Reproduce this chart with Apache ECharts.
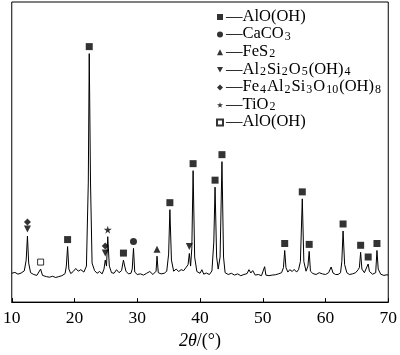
<!DOCTYPE html>
<html>
<head>
<meta charset="utf-8">
<script src="https://cdn.jsdelivr.net/npm/echarts@6/dist/echarts.min.js"></script>
<style>
  html, body { margin: 0; padding: 0; background: #fff; }
  #chart { width: 400px; height: 355px; }
</style>
</head>
<body>
<div id="chart"></div>
<script>
// XRD pattern: [2theta, intensity]
const pattern = [
  [10.0, 9.6], [10.5, 9.9], [11.0, 9.3], [11.5, 9.7], [12.0, 10.4], [12.3, 14], [12.5, 22], [12.7, 13],
  [13.0, 9.8], [13.5, 9.2], [14.0, 8.9], [14.3, 9.4], [14.6, 11], [14.9, 8.9], [15.5, 8.5], [16.0, 8.3],
  [16.5, 8.6], [17.0, 8.2], [17.5, 8.5], [18.0, 8.8], [18.5, 9.5], [18.7, 12], [18.9, 18.5], [19.1, 11],
  [19.4, 9.5], [19.8, 10.2], [20.2, 11.2], [20.6, 10.3], [21.0, 10.8], [21.5, 10], [21.9, 12],
  [22.2, 40], [22.35, 82.8], [22.55, 40], [22.8, 13], [23.2, 10.5], [23.6, 9.6], [24.0, 10.2], [24.4, 9.4],
  [24.7, 11], [24.9, 14], [25.1, 12], [25.3, 21.8], [25.55, 12], [25.9, 9.8], [26.3, 9.6], [26.7, 10.8],
  [27.1, 9.8], [27.5, 10.5], [27.8, 14], [28.0, 12], [28.2, 10.3], [28.6, 9.4], [29.0, 9.6], [29.2, 11],
  [29.4, 17.9], [29.6, 10], [30.0, 9.2], [30.5, 9.4], [31.0, 9], [31.5, 9.6], [32.0, 10.2], [32.5, 9.2],
  [33.0, 10.3], [33.15, 15.3], [33.35, 9.8], [33.8, 9.4], [34.3, 9.6], [34.7, 10.3], [35.0, 16],
  [35.2, 30.8], [35.45, 14], [35.8, 10.3], [36.2, 11], [36.6, 10.2], [37.0, 10.8], [37.4, 10.5],
  [37.8, 11.6], [38.1, 12.5], [38.3, 16.2], [38.5, 12], [38.7, 18], [38.9, 43.8], [39.15, 15],
  [39.5, 10.2], [40.0, 9.6], [40.3, 10.8], [40.6, 9.3], [41.0, 9.7], [41.5, 9.2], [41.9, 10.4],
  [42.2, 20], [42.4, 38.3], [42.65, 15], [42.9, 11], [43.2, 15], [43.5, 46.8], [43.75, 15], [44.0, 9.8],
  [44.5, 9.2], [45.0, 9.6], [45.5, 9], [46.0, 9.4], [46.5, 8.8], [47.0, 9.2], [47.5, 9.5], [47.8, 10.8],
  [48.1, 9.7], [48.4, 10.5], [48.8, 9], [49.3, 9.2], [49.8, 8.8], [50.1, 9.4], [50.3, 11.8], [50.5, 9],
  [51.0, 8.8], [51.5, 9], [52.0, 9.1], [52.5, 9.4], [53.0, 9.8], [53.3, 11.5], [53.5, 17.2], [53.7, 11.5],
  [54.0, 10], [54.3, 10.8], [54.7, 10.2], [55.0, 10.9], [55.4, 10], [55.7, 10.8], [56.0, 13.5],
  [56.3, 34.4], [56.55, 13.5], [56.9, 10.3], [57.2, 12], [57.4, 16.9], [57.6, 10.3], [58.0, 9.5],
  [58.5, 9.2], [59.0, 9.8], [59.5, 9.4], [60.0, 9.2], [60.5, 9.8], [60.9, 11.7], [61.2, 9.7], [61.6, 9.2],
  [62.0, 9.2], [62.4, 9.8], [62.6, 13.5], [62.8, 23.7], [63.05, 12.5], [63.4, 9.8], [63.8, 9.2],
  [64.3, 9.4], [64.8, 9.8], [65.2, 10.8], [65.4, 11.5], [65.6, 16.6], [65.8, 11], [66.2, 9.8],
  [66.5, 10.2], [66.8, 12.7], [67.0, 10.2], [67.5, 9.3], [68.0, 9.8], [68.2, 17.2], [68.4, 11],
  [68.8, 9.3], [69.3, 8.9], [69.8, 9.1], [70.0, 9]
];

// phase markers at peak tops: [2theta, intensity]
const boehmite = [[18.9, 18.5], [22.35, 82.8], [27.8, 14], [35.2, 30.8], [38.9, 43.8], [42.4, 38.3],
  [43.5, 46.8], [53.5, 17.2], [56.3, 34.4], [57.4, 16.9], [62.8, 23.7], [65.6, 16.6], [66.8, 12.7], [68.2, 17.2]];
const calcite = [[29.4, 17.9]];
const pyrite = [[33.15, 15.3]];
const kaolinite = [[12.5, 22], [24.9, 14], [38.3, 16.2]];
const chamosite = [[12.5, 22], [24.9, 14]];
const anatase = [[25.3, 21.8]];
const boehmiteOpen = [[14.6, 11]];

const xTicks = [10, 20, 30, 40, 50, 60, 70];

const phaseNames = {
  a: '{t|AlO(OH)}',
  b: '{t|CaCO}{s|3}',
  c: '{t|FeS}{s|2}',
  d: '{t|Al}{s|2}{t|Si}{s|2}{t|O}{s|5}{t|(OH)}{s|4}',
  e: '{t|Fe}{s|4}{t|Al}{s|2}{t|Si}{s|3}{t|O}{s|10}{t|(OH)}{s|8}',
  f: '{t|TiO}{s|2}',
  g: '{t|AlO(OH)}'
};

const font = '"Liberation Serif", "Times New Roman", serif';
const starPath = 'path://M50,0 L61,35 L98,35 L68,57 L79,91 L50,70 L21,91 L32,57 L2,35 L39,35 Z';
const downTri = 'path://M0,0 L10,0 L5,9 Z';

function marker(name, data, symbol, extra) {
  return Object.assign({
    name: name,
    type: 'scatter',
    data: data,
    symbol: symbol,
    symbolSize: 7,
    symbolOffset: [0, -7],
    itemStyle: { color: '#000' },
    z: 3
  }, extra || {});
}

const chart = echarts.init(document.getElementById('chart'));
chart.setOption({
  animation: false,
  backgroundColor: '#fff',
  grid: { left: 9, right: 10, top: 2, bottom: 45, show: true, borderColor: '#000', borderWidth: 1 },
  legend: {
    orient: 'vertical',
    left: 211,
    top: 3,
    itemWidth: 6,
    itemHeight: 6,
    itemGap: 0.6,
    data: [
      { name: 'a' }, { name: 'b' }, { name: 'c' },
      { name: 'd', icon: downTri }, { name: 'e' },
      { name: 'f', icon: starPath }, { name: 'g' }
    ],
    formatter: function (n) { return '{t|—}' + phaseNames[n]; },
    textStyle: {
      padding: [0, 0, 0, -2],
      rich: {
        t: { fontFamily: font, fontSize: 16.5, color: '#000', verticalAlign: 'bottom', lineHeight: 16 },
        s: { fontFamily: font, fontSize: 12, color: '#000', verticalAlign: 'bottom', lineHeight: 5, padding: [0, 1, 0, 1] }
      }
    }
  },
  xAxis: {
    type: 'value',
    min: 10,
    max: 70,
    interval: 10,
    name: '{i|2θ}{n|/(°)}',
    nameLocation: 'middle',
    nameGap: 27,
    nameTextStyle: {
      rich: {
        i: { fontFamily: font, fontSize: 18, fontStyle: 'italic', color: '#000' },
        n: { fontFamily: font, fontSize: 18, color: '#000' }
      }
    },
    axisLine: { lineStyle: { color: '#000', width: 1 } },
    axisTick: { inside: true, length: 4, lineStyle: { color: '#000' } },
    axisLabel: {
      fontFamily: font, fontSize: 17.5, color: '#000', margin: 7,
      formatter: function (v) { return xTicks.indexOf(v) >= 0 ? String(v) : ''; }
    },
    splitLine: { show: false }
  },
  yAxis: {
    type: 'value',
    min: 0,
    max: 100,
    axisLine: { show: false },
    axisTick: { show: false },
    axisLabel: { show: false },
    splitLine: { show: false }
  },
  series: [
    {
      type: 'line',
      data: pattern,
      symbol: 'none',
      lineStyle: { color: '#000', width: 1 },
      z: 2
    },
    marker('a', boehmite, 'rect'),
    marker('b', calcite, 'circle'),
    marker('c', pyrite, 'triangle'),
    marker('d', kaolinite, downTri),
    marker('e', chamosite, 'diamond', { symbolOffset: [0, -14] }),
    marker('f', anatase, starPath, { symbolSize: 8 }),
    marker('g', boehmiteOpen, 'rect', { itemStyle: { color: '#fff', borderColor: '#000', borderWidth: 1 }, symbolSize: 6 })
  ]
});
</script>
</body>
</html>
